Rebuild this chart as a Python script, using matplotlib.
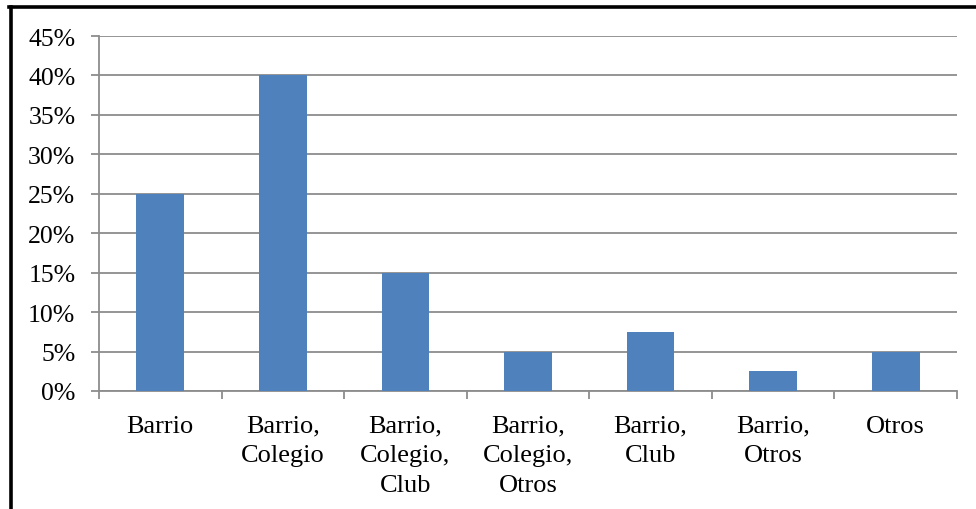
import numpy as np
import matplotlib
matplotlib.use("Agg")
import matplotlib.pyplot as plt
from matplotlib.lines import Line2D
from matplotlib.ticker import FuncFormatter, FixedLocator

plt.rcParams['font.family'] = ['Liberation Serif', 'DejaVu Serif']

categories = ["Barrio", "Barrio,\nColegio", "Barrio,\nColegio,\nClub",
              "Barrio,\nColegio,\nOtros", "Barrio,\nClub", "Barrio,\nOtros", "Otros"]
values = [25, 40, 15, 5, 7.5, 2.5, 5]
y_ticks = [0, 5, 10, 15, 20, 25, 30, 35, 40, 45]

W, H = 976, 510
fig = plt.figure(figsize=(W / 100, H / 100), dpi=100)
# ejes en pixeles: x 99..957, y 37..392
ax = fig.add_axes([99 / W, 1 - 392 / H, (957 - 99) / W, (392 - 37) / H])

x = np.arange(len(categories))
ax.bar(x, values, width=0.39, color="#4F81BD", zorder=3)

ax.set_xlim(-0.5, len(categories) - 0.5)
ax.set_ylim(0, 45)
ax.set_yticks(y_ticks)
ax.yaxis.set_major_formatter(FuncFormatter(lambda v, p: f"{v:.0f}%"))
ax.grid(axis="y", color="#8c8c8c", linewidth=1.3, zorder=0)

# ticks de categorias en los limites, etiquetas centradas
ax.set_xticks(x)
ax.set_xticklabels(categories, fontsize=19, linespacing=1.45, va="top")
ax.xaxis.set_minor_locator(FixedLocator(np.arange(-0.5, len(categories), 1)))
ax.tick_params(axis="x", which="major", length=0, pad=17)
ax.tick_params(axis="x", which="minor", length=6, width=1.3, color="#8c8c8c")
ax.tick_params(axis="y", length=6, width=1.3, color="#8c8c8c", labelsize=18.5, pad=11)

for s in ["top", "right"]:
    ax.spines[s].set_visible(False)
ax.spines["left"].set_color("#8c8c8c")
ax.spines["bottom"].set_color("#8c8c8c")
ax.spines["left"].set_linewidth(1.3)
ax.spines["bottom"].set_linewidth(1.3)

# marco negro (izquierda y arriba)
fig.add_artist(Line2D([10.5 / W, 10.5 / W], [0, 1 - 7.5 / H], color="black", linewidth=2.6,
                      transform=fig.transFigure))
fig.add_artist(Line2D([9 / W, 1], [1 - 7.5 / H, 1 - 7.5 / H], color="black", linewidth=2.6,
                      transform=fig.transFigure))

fig.savefig("out.png", dpi=100)
